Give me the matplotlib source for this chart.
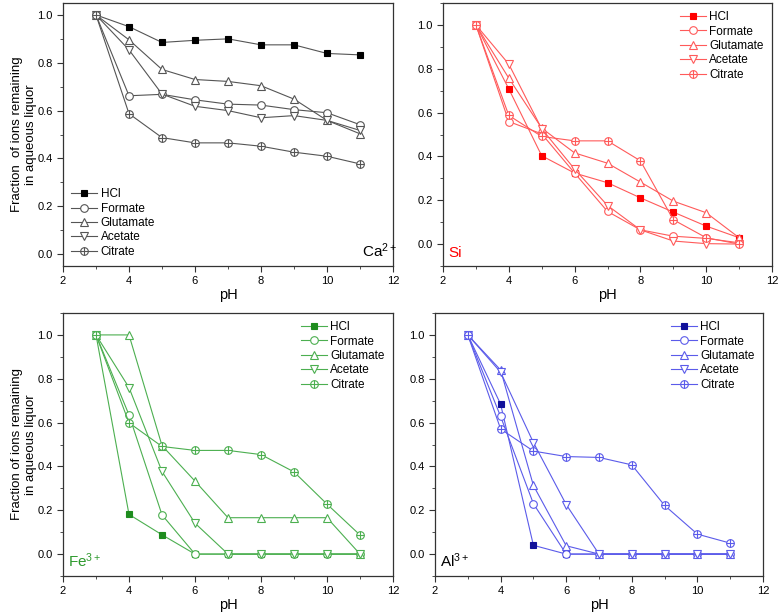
import numpy as np
import matplotlib
matplotlib.use("Agg")
import matplotlib.pyplot as plt
from matplotlib.ticker import MultipleLocator

plt.rcParams['font.family'] = ['Liberation Sans', 'DejaVu Sans']

ph = [3, 4, 5, 6, 7, 8, 9, 10, 11]
names = ['HCl', 'Formate', 'Glutamate', 'Acetate', 'Citrate']

# Ca2+
ca_hcl = [1.0, 0.951, 0.885, 0.894, 0.900, 0.875, 0.875, 0.839, 0.833]
ca_formate = [1.0, 0.662, 0.668, 0.645, 0.627, 0.623, 0.604, 0.591, 0.541]
ca_glutamate = [1.0, 0.896, 0.772, 0.730, 0.722, 0.704, 0.648, 0.559, 0.503]
ca_acetate = [1.0, 0.854, 0.669, 0.618, 0.600, 0.570, 0.579, 0.559, 0.517]
ca_citrate = [1.0, 0.587, 0.487, 0.465, 0.465, 0.451, 0.426, 0.409, 0.377]

# Si
si_hcl = [1.0, 0.708, 0.403, 0.324, 0.280, 0.211, 0.146, 0.082, 0.029]
si_formate = [1.0, 0.559, 0.503, 0.324, 0.149, 0.065, 0.036, 0.026, 0.006]
si_glutamate = [1.0, 0.757, 0.529, 0.416, 0.369, 0.283, 0.196, 0.143, 0.029]
si_acetate = [1.0, 0.821, 0.526, 0.342, 0.176, 0.065, 0.014, 0.002, 0.0]
si_citrate = [1.0, 0.587, 0.491, 0.471, 0.471, 0.380, 0.111, 0.029, 0.0]

# Fe3+
fe_hcl = [1.0, 0.181, 0.088, 0.0, 0.0, 0.0, 0.0, 0.0, 0.0]
fe_formate = [1.0, 0.635, 0.179, 0.0, 0.0, 0.0, 0.0, 0.0, 0.0]
fe_glutamate = [1.0, 1.0, 0.495, 0.333, 0.166, 0.166, 0.166, 0.166, 0.0]
fe_acetate = [1.0, 0.760, 0.377, 0.141, 0.0, 0.0, 0.0, 0.0, 0.0]
fe_citrate = [1.0, 0.599, 0.491, 0.473, 0.473, 0.454, 0.375, 0.228, 0.087]

# Al3+
al_hcl = [1.0, 0.684, 0.040, 0.0, 0.0, 0.0, 0.0, 0.0, 0.0]
al_formate = [1.0, 0.628, 0.230, 0.0, 0.0, 0.0, 0.0, 0.0, 0.0]
al_glutamate = [1.0, 0.840, 0.313, 0.038, 0.0, 0.0, 0.0, 0.0, 0.0]
al_acetate = [1.0, 0.830, 0.509, 0.226, 0.0, 0.0, 0.0, 0.0, 0.0]
al_citrate = [1.0, 0.571, 0.470, 0.445, 0.441, 0.407, 0.222, 0.091, 0.050]

fig = plt.figure(figsize=(7.8, 6.13), dpi=100)


def panel(rect, data, line_c, fill_c, ylim, label, label_c, label_pos, leg_loc, leg_anchor, ylabel):
    ax = fig.add_axes(rect)
    markers = ['s', 'o', '^', 'v', 'o']
    handles = []
    for i, (name, ys) in enumerate(zip(names, data)):
        face = fill_c if i == 0 else 'white'
        ln, = ax.plot(ph, ys, color=line_c, lw=0.8, marker=markers[i], ms=5.5 if i else 5,
                      mfc=face, mec=fill_c if i == 0 else line_c, mew=0.8, zorder=3)
        if name == 'Citrate':
            pl, = ax.plot(ph, ys, ls='none', marker='+', ms=6, mec=line_c, mew=0.8, zorder=4)
            handles.append((ln, pl))
        else:
            handles.append(ln)
    ax.set_xlim(2, 12)
    ax.set_ylim(*ylim)
    ax.xaxis.set_major_locator(MultipleLocator(2))
    ax.xaxis.set_minor_locator(MultipleLocator(1))
    ax.yaxis.set_major_locator(MultipleLocator(0.2))
    ax.yaxis.set_minor_locator(MultipleLocator(0.1))
    ax.tick_params(which='both', direction='out', labelsize=8, color='#333333')
    ax.tick_params(which='major', length=4)
    ax.tick_params(which='minor', length=2.5)
    for s in ax.spines.values():
        s.set_linewidth(0.9)
        s.set_color('#333333')
    ax.set_xlabel('pH', fontsize=10.5, labelpad=1)
    if ylabel:
        ax.set_ylabel(ylabel, fontsize=9.5)
        ax.yaxis.set_label_coords(-0.08, 0.5)
    ax.text(label_pos[0], label_pos[1], label, color=label_c, fontsize=11, transform=ax.transAxes)
    ax.legend(handles, names, loc=leg_loc, bbox_to_anchor=leg_anchor, frameon=False, fontsize=8.5,
              handlelength=2.2, handletextpad=0.3, labelspacing=0.2, borderaxespad=0.3)
    return ax


W, H = 780, 613


def rect(l, r, t, b):
    return [l / W, (H - b) / H, (r - l) / W, (b - t) / H]


panel(rect(63, 393, 3, 266), [ca_hcl, ca_formate, ca_glutamate, ca_acetate, ca_citrate],
      '#555555', 'black', (-0.05, 1.05), r'$\mathregular{Ca^{2+}}$', 'black', (0.905, 0.035),
      'lower left', (0.0, 0.0), 'Fraction  of ions remaining\nin aqueous liquor')
panel(rect(443, 772, 3, 266), [si_hcl, si_formate, si_glutamate, si_acetate, si_citrate],
      '#ff5a5a', '#ff0000', (-0.1, 1.1), 'Si', '#ff0000', (0.015, 0.035),
      'upper right', (1.0, 1.0), None)
panel(rect(63, 393, 313, 576), [fe_hcl, fe_formate, fe_glutamate, fe_acetate, fe_citrate],
      '#4caf50', '#1e8c1e', (-0.1, 1.1), r'$\mathregular{Fe^{3+}}$', '#2e9a2e', (0.015, 0.035),
      'upper right', (1.0, 1.0), 'Fraction of ions remaining\nin aqueous liquor')
panel(rect(435, 763, 313, 576), [al_hcl, al_formate, al_glutamate, al_acetate, al_citrate],
      '#5b5bea', '#10109a', (-0.1, 1.1), r'$\mathregular{Al^{3+}}$', 'black', (0.015, 0.035),
      'upper right', (1.0, 1.0), None)

fig.savefig('out.png', dpi=100)
